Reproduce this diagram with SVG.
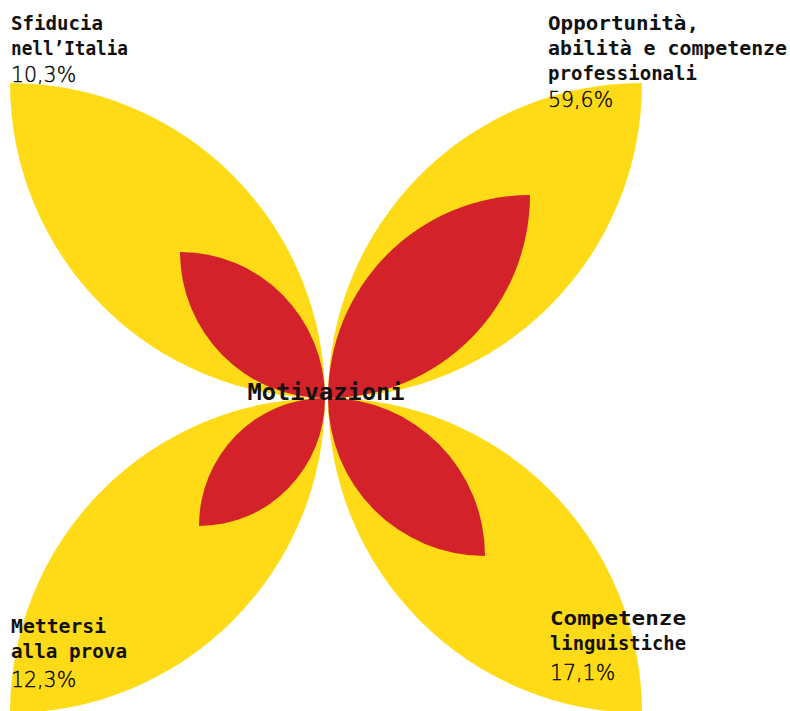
<svg xmlns="http://www.w3.org/2000/svg" width="790" height="711" viewBox="0 0 790 711">
<style>
.y{fill:#FEDB16}
.r{fill:#D3222A}
.t{font-family:"DejaVu Sans Mono","Liberation Mono",monospace;font-weight:bold;font-size:20px;fill:#111}
.p{font-family:"DejaVu Sans","Liberation Sans",sans-serif;font-weight:200;font-size:20.5px;fill:#000;stroke:#000;stroke-width:0.35}
.c{font-family:"DejaVu Sans Mono","Liberation Mono",monospace;font-weight:bold;font-size:23.5px;fill:#111;text-anchor:middle}
</style>
<rect width="790" height="711" fill="#fff"/>
<g id="petal-sfiducia">
<path class="y" d="M10,83 A315,315 0 0 1 325,398 A315,315 0 0 1 10,83Z"/>
<path class="r" d="M180,252 A145,146 0 0 1 325,398 A145,146 0 0 1 180,252Z"/>
</g>
<g id="petal-opportunita">
<path class="y" d="M642,83 A314,315 0 0 0 328,398 A314,315 0 0 0 642,83Z"/>
<path class="r" d="M530,195 A202,203 0 0 0 328,398 A202,203 0 0 0 530,195Z"/>
</g>
<g id="petal-mettersi">
<path class="y" d="M10,713 A315,315 0 0 0 325,398 A315,315 0 0 0 10,713Z"/>
<path class="r" d="M199,526 A126,128 0 0 0 325,398 A126,128 0 0 0 199,526Z"/>
</g>
<g id="petal-competenze">
<path class="y" d="M642,713 A314,315 0 0 1 328,398 A314,315 0 0 1 642,713Z"/>
<path class="r" d="M485,556 A157,158 0 0 1 328,398 A157,158 0 0 1 485,556Z"/>
</g>
<g id="label-sfiducia">
<text class="t" x="11" y="30" textLength="92" lengthAdjust="spacingAndGlyphs">Sfiducia</text>
<text class="t" x="11" y="55" textLength="117" lengthAdjust="spacingAndGlyphs">nell’Italia</text>
<text class="p" x="11" y="82">10,3%</text>
</g>
<g id="label-opportunita">
<text class="t" x="548" y="30" textLength="151" lengthAdjust="spacingAndGlyphs">Opportunità,</text>
<text class="t" x="548" y="55" textLength="239" lengthAdjust="spacingAndGlyphs">abilità e competenze</text>
<text class="t" x="548" y="80" textLength="149" lengthAdjust="spacingAndGlyphs">professionali</text>
<text class="p" x="548" y="107">59,6%</text>
</g>
<g id="label-mettersi">
<text class="t" x="11" y="633" textLength="95" lengthAdjust="spacingAndGlyphs">Mettersi</text>
<text class="t" x="11" y="658" textLength="116" lengthAdjust="spacingAndGlyphs">alla prova</text>
<text class="p" x="11" y="687">12,3%</text>
</g>
<g id="label-competenze">
<text class="t" x="550" y="625" textLength="136" lengthAdjust="spacingAndGlyphs">Competenze</text>
<text class="t" x="550" y="650" textLength="136" lengthAdjust="spacingAndGlyphs">linguistiche</text>
<text class="p" x="550" y="680">17,1%</text>
</g>
<g id="center">
<text class="c" x="326" y="400" textLength="157" lengthAdjust="spacingAndGlyphs">Motivazioni</text>
</g>
</svg>
